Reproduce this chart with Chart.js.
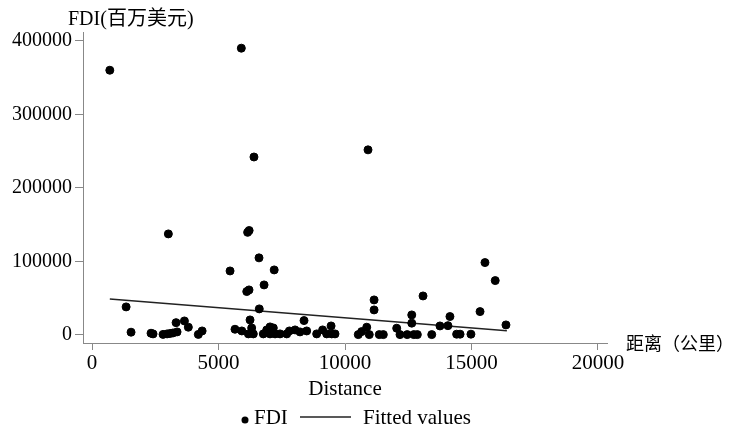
<!DOCTYPE html>
<html>
<head>
<meta charset="utf-8">
<script src="https://cdn.jsdelivr.net/npm/chart.js@4.4.0/dist/chart.umd.min.js"></script>
<style>
  html, body { margin: 0; padding: 0; background: #fff; }
  #wrap { width: 731px; height: 429px; }
</style>
</head>
<body>
<div id="wrap"><canvas id="fdi_canvas" width="731" height="429"></canvas></div>
<script>
//DATA
var distance = [700, 5900, 6400, 10910, 3015, 6150, 6210, 6600, 5455, 7200,
    6800, 6115, 6205, 6610, 1345, 11150, 11150, 13085, 15535, 15940,
    15340, 16365, 12640, 12640, 14150, 14070, 13755, 14415, 14550, 14980,
    13430, 12860, 12720, 12460, 12175, 12045, 11515, 11355, 10960, 10860,
    10660, 10525, 8380, 9450, 9475, 9275, 9115, 8880, 8485, 8220,
    8025, 7800, 7695, 7430, 7235, 7165, 7035, 7035, 6905, 6770,
    6375, 6180, 6310, 6245, 5920, 5650, 1540, 2330, 2410, 2805,
    2965, 3085, 3200, 3360, 3320, 3650, 3805, 4200, 4350, 9605];
var fdi = [360000, 390000, 242000, 251700, 137400, 139500, 142000, 104800, 87000, 88400,
    68000, 59000, 61200, 35400, 38100, 47600, 34000, 53000, 98400, 73900,
    31700, 13600, 27200, 16000, 25000, 12600, 12200, 1000, 1000, 1000,
    400, 400, 400, 400, 400, 9100, 400, 400, 400, 10500,
    4500, 400, 19500, 12200, 1400, 1400, 6800, 1400, 5400, 4100,
    6800, 5400, 1400, 1400, 1400, 9500, 10900, 1400, 6800, 1400,
    1400, 1400, 9500, 20400, 5400, 7700, 3700, 2300, 1400, 700,
    1400, 2000, 2700, 4100, 16700, 19000, 10500, 700, 5400, 1400];
var fittedX = [700, 16400];
var fittedY = [49000, 5600];

var xTicks = [0, 5000, 10000, 15000, 20000];
var yTicks = [0, 100000, 200000, 300000, 400000];
var xTitle = "Distance";
var xEndLabel = "距离（公里）";
var yTitle = "FDI(百万美元)";
var seriesNames = ["FDI", "Fitted values"];

var serif = "'Liberation Serif', 'Noto Sans CJK SC', serif";

var fdiPoints = [];
for (var i = 0; i < distance.length; i++)
    fdiPoints.push({ x: distance[i], y: fdi[i] });
var fittedPoints = [];
for (var i = 0; i < fittedX.length; i++)
    fittedPoints.push({ x: fittedX[i], y: fittedY[i] });

//texts outside the axes + legend row
var extraText = {
    id: 'extraText',
    afterDraw: function(chart) {
        var ctx = chart.ctx;
        var area = chart.chartArea;
        ctx.save();
        ctx.fillStyle = '#000';
        ctx.textBaseline = 'middle';
        ctx.textAlign = 'left';
        ctx.font = '20px ' + serif;
        ctx.fillText(yTitle, 68, 20);
        ctx.font = '18px ' + serif;
        ctx.fillText(xEndLabel, area.right + 19, 345);

        //legend
        var ly = 418;
        ctx.font = '21px ' + serif;
        ctx.beginPath();
        ctx.arc(245, ly + 2, 3.5, 0, Math.PI * 2);
        ctx.fill();
        ctx.fillText(chart.data.datasets[0].label, 254, ly);
        ctx.strokeStyle = '#222';
        ctx.lineWidth = 1.5;
        ctx.beginPath();
        ctx.moveTo(300, ly - 1);
        ctx.lineTo(351, ly - 1);
        ctx.stroke();
        ctx.fillText(chart.data.datasets[1].label, 363, ly);
        ctx.restore();
    }
};

var ctx = document.getElementById("fdi_canvas").getContext('2d');
var fdiChart = new Chart(ctx, {
    type: 'scatter',
    data: {
        datasets: [{
            label: seriesNames[0],
            data: fdiPoints,
            backgroundColor: '#000',
            borderColor: '#000',
            pointRadius: 4,
            pointHoverRadius: 4
        }, {
            label: seriesNames[1],
            type: 'line',
            data: fittedPoints,
            borderColor: '#222',
            borderWidth: 1.5,
            pointRadius: 0,
            fill: false
        }]
    },
    options: {
        responsive: false,
        animation: false,
        layout: { padding: { top: 32, right: 124, bottom: 0, left: 0 } },
        plugins: {
            legend: { display: false },
            tooltip: { enabled: false }
        },
        scales: {
            x: {
                type: 'linear',
                min: -360,
                max: 20360,
                afterFit: function(s) { s.height = 86; },
                afterBuildTicks: function(s) { s.ticks = xTicks.map(function(v) { return { value: v }; }); },
                grid: { drawOnChartArea: false, drawTicks: true, tickLength: 7, color: '#888' },
                border: { color: '#888', width: 1 },
                ticks: {
                    color: '#000',
                    padding: 1,
                    maxRotation: 0,
                    font: { family: serif, size: 21 },
                    callback: function(v) { return String(v); }
                },
                title: {
                    display: true,
                    text: xTitle,
                    color: '#000',
                    font: { family: serif, size: 21 },
                    padding: { top: 4, bottom: 27 }
                }
            },
            y: {
                type: 'linear',
                min: -11000,
                max: 412000,
                afterFit: function(s) { s.width = 83; },
                afterBuildTicks: function(s) { s.ticks = yTicks.map(function(v) { return { value: v }; }); },
                grid: { drawOnChartArea: false, drawTicks: true, tickLength: 8, color: '#888' },
                border: { color: '#888', width: 1 },
                ticks: {
                    color: '#000',
                    padding: 3,
                    font: { family: serif, size: 20 },
                    callback: function(v) { return String(v); }
                }
            }
        }
    },
    plugins: [extraText]
});
</script>
</body>
</html>
